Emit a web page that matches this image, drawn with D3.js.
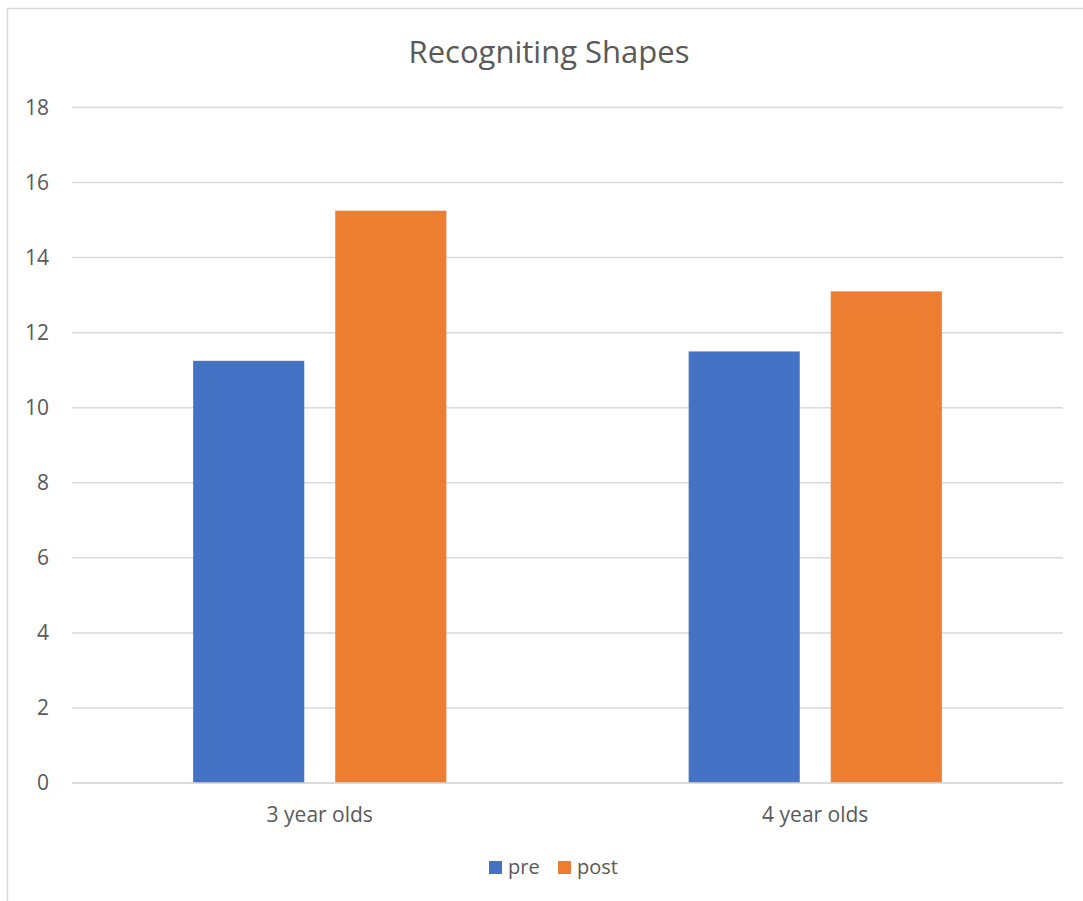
<!DOCTYPE html>
<html>
<head>
<meta charset="utf-8">
<script src="https://cdn.jsdelivr.net/npm/d3@7"></script>
<style>
  html, body { margin: 0; padding: 0; background: #fff; }
  svg { display: block; }
  text { font-family: "Open Sans", "Liberation Sans", sans-serif; fill: #595959; }
</style>
</head>
<body>
<script>
// Chart data
const categories = ["3 year olds", "4 year olds"];
const seriesNames = ["pre", "post"];
const preValues = [11.25, 11.5];
const postValues = [15.25, 13.1];
const yTicks = [0, 2, 4, 6, 8, 10, 12, 14, 16, 18];
const title = "Recogniting Shapes";
const colors = { pre: "#4472C4", post: "#ED7D31" };

const W = 1083, H = 901;
const plot = { left: 72, right: 1063, top: 107.5, bottom: 783 };

const svg = d3.select("body").append("svg")
  .attr("width", W).attr("height", H);

// Chart area border
svg.append("rect")
  .attr("x", 7.5).attr("y", 8.5)
  .attr("width", 1200).attr("height", 1000)
  .attr("fill", "#fff").attr("stroke", "#d9d9d9").attr("stroke-width", 1.5);

const y = d3.scaleLinear().domain([0, 18]).range([plot.bottom, plot.top]);
const x0 = d3.scaleBand().domain(categories).range([plot.left, plot.right]).padding(0);
const groupFrac = 0.511;
const x1 = d3.scaleBand().domain(seriesNames)
  .range([0, x0.bandwidth() * groupFrac]).paddingInner(0.218).paddingOuter(0);

// Gridlines
svg.append("g").selectAll("line").data(yTicks).join("line")
  .attr("x1", plot.left).attr("x2", plot.right)
  .attr("y1", d => y(d)).attr("y2", d => y(d))
  .attr("stroke", "#d9d9d9").attr("stroke-width", 1.5);

// Y axis labels
const yAxis = d3.axisLeft(y).tickValues(yTicks).tickSize(0).tickPadding(0);
const ya = svg.append("g").attr("transform", `translate(49,0)`).call(yAxis);
ya.select(".domain").remove();
ya.selectAll("text")
  .attr("font-family", "Open Sans, sans-serif")
  .attr("font-size", 21).attr("fill", "#595959").attr("x", 0);

// Bars
const rows = categories.map((c, i) => ({ cat: c, pre: preValues[i], post: postValues[i] }));
const groups = svg.append("g").selectAll("g").data(rows).join("g")
  .attr("transform", d => `translate(${x0(d.cat) + (x0.bandwidth() - x0.bandwidth() * groupFrac) / 2},0)`);
groups.selectAll("rect")
  .data(d => seriesNames.map(s => ({ s, v: d[s] })))
  .join("rect")
  .attr("x", d => x1(d.s))
  .attr("width", x1.bandwidth())
  .attr("y", d => y(d.v))
  .attr("height", d => y(0) - y(d.v))
  .attr("fill", d => colors[d.s]);

// Baseline
svg.append("line")
  .attr("x1", plot.left).attr("x2", plot.right)
  .attr("y1", y(0)).attr("y2", y(0))
  .attr("stroke", "#d9d9d9").attr("stroke-width", 1.5);

// X axis labels
const xAxis = d3.axisBottom(x0).tickSize(0).tickPadding(0);
const xa = svg.append("g").attr("transform", `translate(0,${plot.bottom})`).call(xAxis);
xa.select(".domain").remove();
xa.selectAll("text")
  .attr("font-family", "Open Sans, sans-serif")
  .attr("font-size", 21).attr("fill", "#595959")
  .attr("dy", null).attr("y", 39);

// Title
svg.append("text")
  .attr("x", 549).attr("y", 63)
  .attr("text-anchor", "middle")
  .attr("font-size", 31)
  .text(title);

// Legend
const legendItems = [
  { name: "pre", sx: 489, tx: 508 },
  { name: "post", sx: 558, tx: 577 }
];
const lg = svg.append("g");
lg.selectAll("rect").data(legendItems).join("rect")
  .attr("x", d => d.sx).attr("y", 861).attr("width", 13).attr("height", 13)
  .attr("fill", d => colors[d.name]);
lg.selectAll("text").data(legendItems).join("text")
  .attr("x", d => d.tx).attr("y", 874)
  .attr("font-size", 20)
  .text(d => d.name);
</script>
</body>
</html>
